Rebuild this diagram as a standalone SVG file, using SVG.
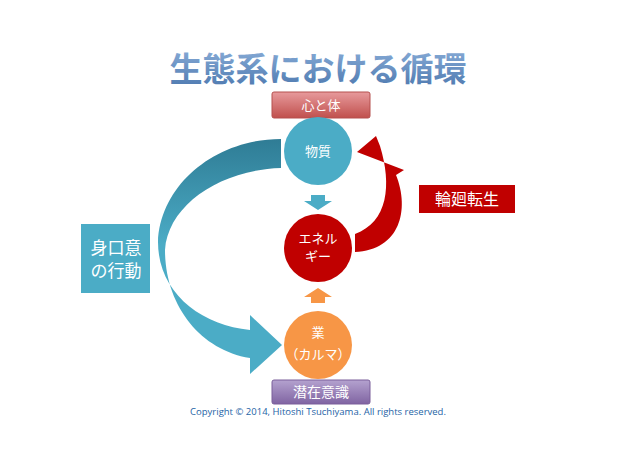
<svg xmlns="http://www.w3.org/2000/svg" width="638" height="451" viewBox="0 0 638 451">
<defs>
<linearGradient id="tg" x1="0" y1="0" x2="0" y2="1"><stop offset="0" stop-color="#8fb2dc"/><stop offset="1" stop-color="#4a76ad"/></linearGradient>
<linearGradient id="pk" x1="0" y1="0" x2="0" y2="1"><stop offset="0" stop-color="#e79a9c"/><stop offset="1" stop-color="#c0504d"/></linearGradient>
<linearGradient id="pu" x1="0" y1="0" x2="0" y2="1"><stop offset="0" stop-color="#b4a2cf"/><stop offset="1" stop-color="#8064a2"/></linearGradient>
<linearGradient id="ba" x1="0" y1="0" x2="0" y2="1"><stop offset="0" stop-color="#2f7c95"/><stop offset="0.45" stop-color="#4bacc6"/><stop offset="1" stop-color="#4bacc6"/></linearGradient>
</defs>
<style>
text{font-family:"Noto Sans CJK JP","Noto Sans",sans-serif;text-anchor:middle;fill:#fff}
.c{font-size:13px}
</style>
<text x="318" y="81" style="font-size:33px;font-weight:bold;fill:url(#tg)">生態系における循環</text>
<g id="connectors">
<path d="M281,139 C215,139 160,185 158,242 C158,292 200,325 250,330 L250,315 L282,345 L250,374 L250,358 C200,350 165,305 165,250 C168,205 220,170 281,168 Z" fill="url(#ba)"/>
<path d="M355,252 C400,250 410,210 396,175 L404,170 L357,152 L376,136 L380,146 C392,185 388,222 355,234 Z" fill="#c00000"/>
<path d="M311,195 h14 v6 h7 l-14,9 l-14,-9 h7 z" fill="#4bacc6"/>
<path d="M311,303 h14 v-6 h7 l-14,-9 l-14,9 h7 z" fill="#f79646"/>
</g>
<g id="kokoro"><rect x="272" y="92" width="98" height="26" rx="2" fill="url(#pk)" stroke="#b5504e"/><text x="321" y="110" class="c">心と体</text></g>
<g id="busshitsu"><circle cx="318" cy="151" r="34" fill="#4bacc6"/><text x="318" y="156" class="c">物質</text></g>
<g id="energy"><circle cx="318" cy="248" r="34" fill="#c00000"/><text x="318" y="243" class="c">エネル</text><text x="318" y="261" class="c">ギー</text></g>
<g id="karma"><circle cx="318" cy="345" r="34" fill="#f79646"/><text x="318" y="337" class="c">業</text><text x="318" y="359" class="c">（カルマ）</text></g>
<g id="senzai"><rect x="272" y="380" width="98" height="24" rx="2" fill="url(#pu)" stroke="#7a5f9a"/><text x="321" y="397" style="font-size:14px">潜在意識</text></g>
<g id="shinkoui"><rect x="81" y="224" width="69" height="69" fill="#4bacc6"/><text x="116" y="254" style="font-size:17px">身口意</text><text x="116" y="277" style="font-size:17px">の行動</text></g>
<g id="rinne"><rect x="419" y="185" width="96" height="28" fill="#c00000"/><text x="467" y="205" style="font-size:16px">輪廻転生</text></g>
<text x="318" y="415" style="font-family:'Open Sans',sans-serif;font-size:9.5px;fill:#2563a6">Copyright © 2014, Hitoshi Tsuchiyama. All rights reserved.</text>
</svg>
